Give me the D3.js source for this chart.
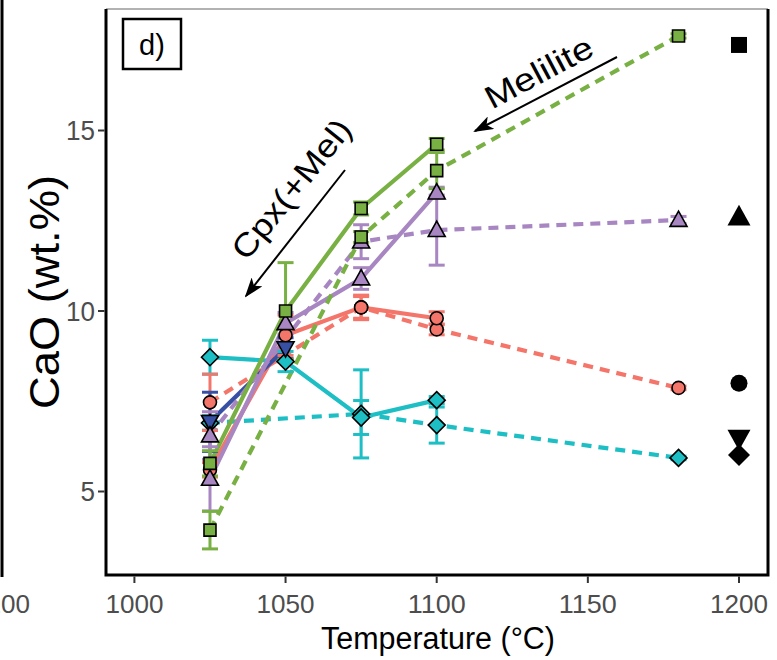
<!DOCTYPE html>
<html><head><meta charset="utf-8">
<script src="https://cdn.jsdelivr.net/npm/d3@7"></script>
<style>body{margin:0;background:#fff}svg{display:block;font-family:"Liberation Sans",Arial,sans-serif}</style>
</head><body><svg id="c" width="777" height="660"></svg>
<script>
// ---- data ----
const solidTemps = [1025, 1050, 1075, 1100];
const dashTemps = [1025, 1075, 1100, 1180];
const blueTemps = [1025, 1050];

const greenSolid = [5.78, 10.0, 12.84, 14.62];
const greenSolidErr = [0.35, 1.34, 0.18, 0.16];
const greenDash = [3.93, 12.05, 13.89, 17.62];
const greenDashErr = [0.52, 0.15, 0.5, 0.06];

const purpleSolid = [5.35, 9.66, 10.9, 13.28];
const purpleSolidErr = [0.89, 0.3, 0.3, 0.15];
const purpleDash = [6.55, 11.92, 12.24, 12.52];
const purpleDashErr = [0.66, 0.47, 0.97, 0.1];

const redSolid = [5.6, 9.33, 10.1, 9.8];
const redSolidErr = [0.2, 0.56, 0.34, 0.18];
const redDash = [7.47, 10.1, 9.49, 7.87];
const redDashErr = [0.78, 0.3, 0.15, 0.05];

const cyanSolid = [8.72, 8.6, 7.05, 7.53];
const cyanSolidErr = [0.47, 0.28, 0.47, 0.1];
const cyanDash = [6.9, 7.15, 6.84, 5.93];
const cyanDashErr = [0.2, 1.22, 0.5, 0.05];

const blueSolid = [6.93, 8.97];
const blueSolidErr = [0.82, 0.29];

const refTemp = 1200;
const refShapes = ["square", "triangle", "circle", "down", "diamond"];
const refValues = [17.37, 12.61, 8.0, 6.47, 6.01];

const xTicks = [1000, 1050, 1100, 1150, 1200];
const yTicks = [5, 10, 15];

const colors = {green: "#78b043", purple: "#a786c2", red: "#f4766b", cyan: "#1dbec4", blue: "#3850a3"};

const series = [
  {c: "cyan", shape: "diamond", dash: true, t: dashTemps, v: cyanDash, e: cyanDashErr},
  {c: "cyan", shape: "diamond", dash: false, t: solidTemps, v: cyanSolid, e: cyanSolidErr},
  {c: "red", shape: "circle", dash: true, t: dashTemps, v: redDash, e: redDashErr},
  {c: "red", shape: "circle", dash: false, t: solidTemps, v: redSolid, e: redSolidErr},
  {c: "blue", shape: "down", dash: false, t: blueTemps, v: blueSolid, e: blueSolidErr},
  {c: "purple", shape: "triangle", dash: true, t: dashTemps, v: purpleDash, e: purpleDashErr},
  {c: "purple", shape: "triangle", dash: false, t: solidTemps, v: purpleSolid, e: purpleSolidErr},
  {c: "green", shape: "square", dash: true, t: dashTemps, v: greenDash, e: greenDashErr},
  {c: "green", shape: "square", dash: false, t: solidTemps, v: greenSolid, e: greenSolidErr}
];

// ---- layout ----
const L = 106, R = 768, T = 9, B = 575;
const x = d3.scaleLinear().domain([990.6, 1209.6]).range([L, R]);
const y = d3.scaleLinear().domain([2.687, 18.366]).range([B, T]);

const svg = d3.select("#c");

function shapePath(type, s) {
  switch (type) {
    case "square": return `M${-s},${-s}H${s}V${s}H${-s}Z`;
    case "circle": return `M${s},0A${s},${s} 0 1,1 ${-s},0A${s},${s} 0 1,1 ${s},0Z`;
    case "triangle": return `M0,${-s*1.05}L${s*1.0},${s*0.75}L${-s*1.0},${s*0.75}Z`;
    case "down": return `M0,${s*1.05}L${s*1.0},${-s*0.75}L${-s*1.0},${-s*0.75}Z`;
    case "diamond": return `M0,${-s}L${s},0L0,${s}L${-s},0Z`;
  }
}
const sz = {square: 6, circle: 6.5, triangle: 8.5, down: 8.5, diamond: 8.5};
const refSz = {square: 8, circle: 8.5, triangle: 11.5, down: 11.5, diamond: 11};

// fragment of previous panel at left edge
svg.append("line").attr("x1", 2).attr("x2", 2).attr("y1", 0).attr("y2", 577)
  .attr("stroke", "#000").attr("stroke-width", 3);
svg.append("text").attr("x", 1).attr("y", 613).attr("text-anchor", "middle")
  .attr("font-size", 26).attr("fill", "#4d4d4d").attr("textLength", 58).attr("lengthAdjust", "spacingAndGlyphs").text("1200");

const g = svg.append("g");

// lines
const line = d3.line().x(d => x(d[0])).y(d => y(d[1]));
series.forEach(s => {
  g.append("path").datum(s.t.map((t, i) => [t, s.v[i]]))
    .attr("d", line).attr("fill", "none").attr("stroke", colors[s.c])
    .attr("stroke-width", 4.2)
    .attr("stroke-dasharray", s.dash ? "10,7" : null);
});

// error bars
series.forEach(s => {
  s.t.forEach((t, i) => {
    const cx = x(t), y1 = y(s.v[i] - s.e[i]), y2 = y(s.v[i] + s.e[i]);
    const eg = g.append("g").attr("stroke", colors[s.c]).attr("stroke-width", 3);
    eg.append("line").attr("x1", cx).attr("x2", cx).attr("y1", y1).attr("y2", y2);
    eg.append("line").attr("x1", cx - 8).attr("x2", cx + 8).attr("y1", y1).attr("y2", y1);
    eg.append("line").attr("x1", cx - 8).attr("x2", cx + 8).attr("y1", y2).attr("y2", y2);
  });
});

// points
series.forEach(s => {
  s.t.forEach((t, i) => {
    g.append("path").attr("d", shapePath(s.shape, sz[s.shape]))
      .attr("transform", `translate(${x(t)},${y(s.v[i])})`)
      .attr("fill", colors[s.c]).attr("stroke", "#000").attr("stroke-width", 1.6);
  });
});

// reference black markers
refShapes.forEach((sh, i) => {
  g.append("path").attr("d", shapePath(sh, refSz[sh]))
    .attr("transform", `translate(${x(refTemp)},${y(refValues[i])})`)
    .attr("fill", "#000");
});

// frame
svg.append("line").attr("x1", L).attr("x2", R).attr("y1", T).attr("y2", T).attr("stroke", "#999").attr("stroke-width", 1.5);
svg.append("path").attr("d", `M${L},${T}V${B}H${R}V${T}`).attr("fill", "none").attr("stroke", "#000").attr("stroke-width", 3);

// axes ticks
const xa = svg.append("g");
xTicks.forEach(t => {
  xa.append("line").attr("x1", x(t)).attr("x2", x(t)).attr("y1", B + 1.5).attr("y2", B + 8).attr("stroke", "#333").attr("stroke-width", 2);
  xa.append("text").attr("x", x(t)).attr("y", 613).attr("text-anchor", "middle").attr("font-size", 26)
    .attr("fill", "#4d4d4d").attr("textLength", 58).attr("lengthAdjust", "spacingAndGlyphs").text(t);
});
const ya = svg.append("g");
yTicks.forEach(t => {
  ya.append("line").attr("x1", L - 8).attr("x2", L - 1.5).attr("y1", y(t)).attr("y2", y(t)).attr("stroke", "#333").attr("stroke-width", 2);
  ya.append("text").attr("x", L - 11).attr("y", y(t) + 9.5).attr("text-anchor", "end").attr("font-size", 27)
    .attr("fill", "#4d4d4d").attr("textLength", String(t).length * 14.5).attr("lengthAdjust", "spacingAndGlyphs").text(t);
});

// axis titles
svg.append("text").attr("x", (L + R) / 2 + 1).attr("y", 649).attr("text-anchor", "middle")
  .attr("font-size", 31).attr("fill", "#000").attr("textLength", 234).attr("lengthAdjust", "spacingAndGlyphs").text("Temperature (°C)");
svg.append("text").attr("transform", `translate(59,${292}) rotate(-90)`).attr("text-anchor", "middle")
  .attr("font-size", 42).attr("fill", "#000").attr("textLength", 234).attr("lengthAdjust", "spacingAndGlyphs").text("CaO (wt.%)");

// panel label
svg.append("rect").attr("x", 123).attr("y", 19).attr("width", 58).attr("height", 50)
  .attr("fill", "#fff").attr("stroke", "#000").attr("stroke-width", 2.5);
svg.append("text").attr("x", 152).attr("y", 55).attr("text-anchor", "middle").attr("font-size", 29).text("d)");

// annotations
const defs = svg.append("defs");
defs.append("marker").attr("id", "ah").attr("viewBox", "0 0 20 14").attr("refX", 18).attr("refY", 7)
  .attr("markerWidth", 20).attr("markerHeight", 14).attr("markerUnits", "userSpaceOnUse").attr("orient", "auto")
  .append("path").attr("d", "M0,0L20,7L0,14L5,7Z").attr("fill", "#000");

svg.append("line").attr("x1", 345).attr("y1", 170).attr("x2", 246).attr("y2", 296)
  .attr("stroke", "#000").attr("stroke-width", 2).attr("marker-end", "url(#ah)");
svg.append("text").attr("transform", "translate(300,196) rotate(-51)").attr("text-anchor", "middle")
  .attr("font-size", 32).attr("textLength", 170).attr("lengthAdjust", "spacingAndGlyphs").text("Cpx(+Mel)");

svg.append("line").attr("x1", 617).attr("y1", 57).attr("x2", 475).attr("y2", 131)
  .attr("stroke", "#000").attr("stroke-width", 2).attr("marker-end", "url(#ah)");
svg.append("text").attr("transform", "translate(544,82) rotate(-28)").attr("text-anchor", "middle")
  .attr("font-size", 32).attr("textLength", 118).attr("lengthAdjust", "spacingAndGlyphs").text("Melilite");
</script></body></html>
